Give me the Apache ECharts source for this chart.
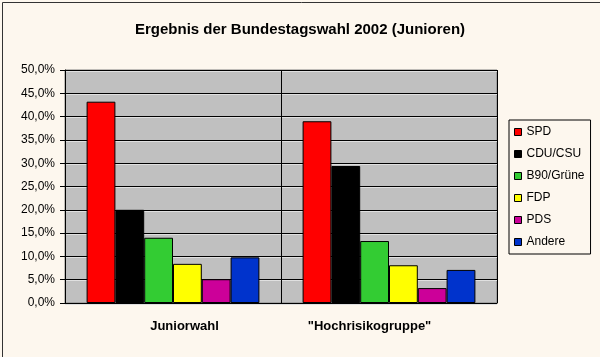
<!DOCTYPE html>
<html><head><meta charset="utf-8">
<script src="https://cdn.jsdelivr.net/npm/echarts@6/dist/echarts.min.js"></script>
<style>html,body{margin:0;padding:0;background:#fdf7ee}#c{width:600px;height:357px}</style>
</head><body><div id="c"></div>
<script>
const categories = ['Juniorwahl', '"Hochrisikogruppe"'];
const parties = ['SPD', 'CDU/CSU', 'B90/Grüne', 'FDP', 'PDS', 'Andere'];
const colors = ['#ff0000', '#000000', '#33cc33', '#ffff00', '#cc0099', '#0033cc'];
const SPD = [43.2, 39.0];
const CDU = [20.0, 29.4];
const GRUENE = [14.0, 13.3];
const FDP = [8.4, 8.1];
const PDS = [5.1, 3.2];
const ANDERE = [9.8, 7.1];
const values = [SPD, CDU, GRUENE, FDP, PDS, ANDERE];
const yTicks = [0, 5, 10, 15, 20, 25, 30, 35, 40, 45, 50];

const chart = echarts.init(document.getElementById('c'), null, {renderer: 'canvas'});
const font = 'Liberation Sans, Arial, sans-serif';
chart.setOption({
  backgroundColor: '#fdf7ee',
  animation: false,
  title: {
    text: 'Ergebnis der Bundestagswahl 2002 (Junioren)',
    left: 'center', top: 17,
    textStyle: {fontFamily: font, fontSize: 15, fontWeight: 'bold', color: '#000'}
  },
  grid: {left: 65, right: 103, top: 70, bottom: 54, show: true, backgroundColor: '#c0c0c0', borderColor: '#808080', borderWidth: 1},
  legend: {
    orient: 'vertical', left: 509, top: 120,
    data: parties,
    icon: 'rect', itemWidth: 7, itemHeight: 7, itemGap: 8, itemTextGap: 3,
    padding: [5, 6, 5, 5],
    borderColor: '#000', borderWidth: 1, backgroundColor: '#fdf7ee',
    textStyle: {fontFamily: font, fontSize: 12, color: '#000', lineHeight: 14},
    itemStyle: {borderColor: '#000', borderWidth: 1}
  },
  xAxis: {
    type: 'category', data: categories,
    axisLine: {show: true, lineStyle: {color: '#000'}},
    axisTick: {show: false},
    splitLine: {show: true, lineStyle: {color: '#000', width: 1}},
    axisLabel: {fontFamily: font, fontSize: 13, fontWeight: 'bold', color: '#000', margin: 17,
      formatter: (v, i) => i === 0 ? '{a|' + v + '}' : '{b|' + v + '}',
      rich: {
        a: {fontFamily: font, fontSize: 13, fontWeight: 'bold', color: '#000', padding: [0, 0, 0, 23]},
        b: {fontFamily: font, fontSize: 13, fontWeight: 'bold', color: '#000', padding: [0, 39, 0, 0]}
      }}
  },
  yAxis: {
    type: 'value', min: 0, max: 50, interval: 5,
    axisLine: {show: true, lineStyle: {color: '#000'}},
    axisTick: {show: true, length: 5, lineStyle: {color: '#000'}},
    splitLine: {show: true, lineStyle: {color: '#000', width: 1, shadowColor: '#e0e0e0', shadowOffsetY: 1}},
    axisLabel: {fontFamily: font, fontSize: 12, color: '#000', margin: 10,
      formatter: v => v.toFixed(1).replace('.', ',') + '%'}
  },
  series: parties.map((p, i) => ({
    name: p, type: 'bar', data: values[i],
    barGap: '0%', barCategoryGap: '20%',
    itemStyle: {color: colors[i], borderColor: '#000', borderWidth: 1}
  })),
  graphic: [{type: 'rect', left: 0, top: 0, shape: {x: 0.5, y: 0.5, width: 598, height: 355}, style: {fill: 'none', stroke: '#333', lineWidth: 1}, silent: true}]
});
</script></body></html>
